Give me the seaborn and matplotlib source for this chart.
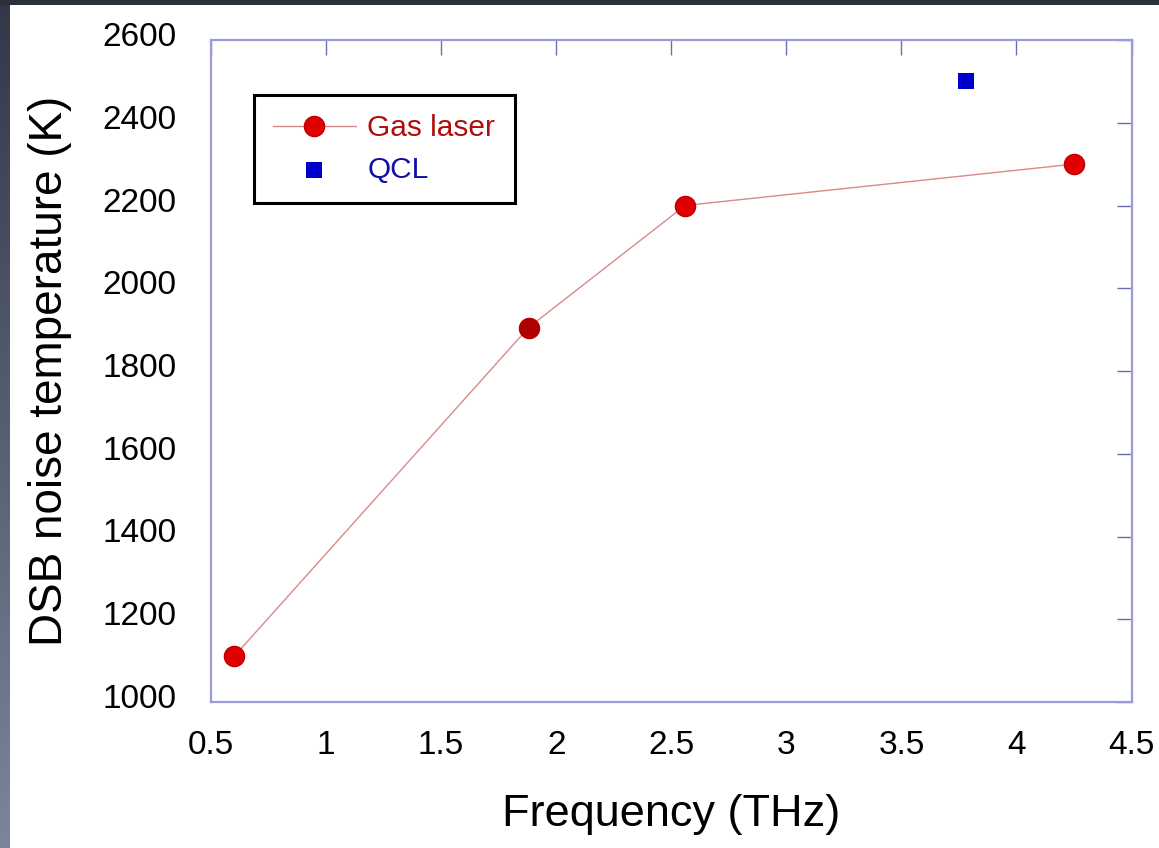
import numpy as np
import pandas as pd
import matplotlib
matplotlib.use("Agg")
import matplotlib.pyplot as plt
import matplotlib.transforms as mtransforms
from matplotlib.patches import Rectangle
import seaborn as sns

# Measured DSB receiver noise temperature vs LO frequency
gas_freq = [0.6, 1.88, 2.56, 4.25]        # THz
gas_temp = [1110, 1905, 2200, 2300]       # K
qcl_freq = [3.78]                          # THz
qcl_temp = [2500]                          # K

x_ticks = [0.5, 1, 1.5, 2, 2.5, 3, 3.5, 4, 4.5]
x_tick_labels = ["0.5", "1", "1.5", "2", "2.5", "3", "3.5", "4", "4.5"]
y_ticks = [1000, 1200, 1400, 1600, 1800, 2000, 2200, 2400, 2600]
y_tick_labels = [str(v) for v in y_ticks]

sns.set_style("white")
plt.rcParams["font.family"] = ["Liberation Sans", "DejaVu Sans"]

W, H = 1159, 848
fig = plt.figure(figsize=(W / 100, H / 100), dpi=100)
fig.patch.set_facecolor("white")

ax = fig.add_axes([211 / W, 1 - 702 / H, (1131.5 - 211) / W, (702 - 40) / H])

gas = pd.DataFrame({"freq": gas_freq, "temp": gas_temp})
qcl = pd.DataFrame({"freq": qcl_freq, "temp": qcl_temp})

sns.lineplot(data=gas, x="freq", y="temp", ax=ax, color="#d88a8a", linewidth=1.0,
             marker="o", markersize=14.5, markerfacecolor="#e00000",
             markeredgecolor="#c00000", markeredgewidth=1.0, label="Gas laser",
             estimator=None, sort=False)
# second gas-laser point is rendered in a deeper red
sns.scatterplot(data=gas.iloc[[1]], x="freq", y="temp", ax=ax, color="#b00000",
                s=14.5 ** 2, linewidth=0, legend=False, zorder=4)
sns.scatterplot(data=qcl, x="freq", y="temp", ax=ax, marker="s", color="#0000cc",
                s=130, linewidth=0, label="QCL", zorder=4)

ax.set_xlim(0.5, 4.5)
ax.set_ylim(1000, 2600)
ax.set_xticks(x_ticks)
ax.set_xticklabels(x_tick_labels)
ax.set_yticks(y_ticks)
ax.set_yticklabels(y_tick_labels)

ax.tick_params(axis="both", direction="in", length=11, width=1.0, color="#6e6ea8",
               top=True, right=True, labelsize=24, labelcolor="black")
ax.tick_params(axis="y", pad=25)
ax.tick_params(axis="x", pad=20)

# y tick labels sit slightly above their ticks
off = mtransforms.ScaledTranslation(0, 6 / 100, fig.dpi_scale_trans)
for lab in ax.get_yticklabels():
    lab.set_transform(lab.get_transform() + off)

for sp in ax.spines.values():
    sp.set_color("#9a9ae0")
    sp.set_linewidth(1.6)

ax.set_xlabel("Frequency (THz)", fontsize=32.5, labelpad=24, color="black")
ax.set_ylabel("DSB noise temperature (K)", fontsize=33, labelpad=22, color="black")

leg = ax.legend(loc="upper left", bbox_to_anchor=(254 / W, 1 - 95 / H),
                bbox_transform=fig.transFigure, fontsize=21.5, frameon=True,
                fancybox=False, framealpha=1, edgecolor="black",
                handlelength=2.75, handletextpad=0.4, labelspacing=0.45,
                borderpad=0.65, borderaxespad=0)
leg.get_frame().set_linewidth(2.2)
leg.get_texts()[0].set_color("#b00d0d")
leg.get_texts()[1].set_color("#1010a8")

# dark surround along the top and left edges
fig.patches.append(Rectangle((0, 1 - 5 / H), 1, 5 / H, transform=fig.transFigure,
                             facecolor="#2b303b", edgecolor="none", zorder=10))
band = fig.add_axes([0, 0, 10 / W, 1])
grad = np.linspace(0, 1, 256)[:, None]
cmap = matplotlib.colors.LinearSegmentedColormap.from_list("edge", ["#323846", "#7a869c"])
band.imshow(grad, aspect="auto", cmap=cmap, extent=(0, 1, 0, 1), origin="upper")
band.set_axis_off()

fig.savefig("out.png", dpi=100)
